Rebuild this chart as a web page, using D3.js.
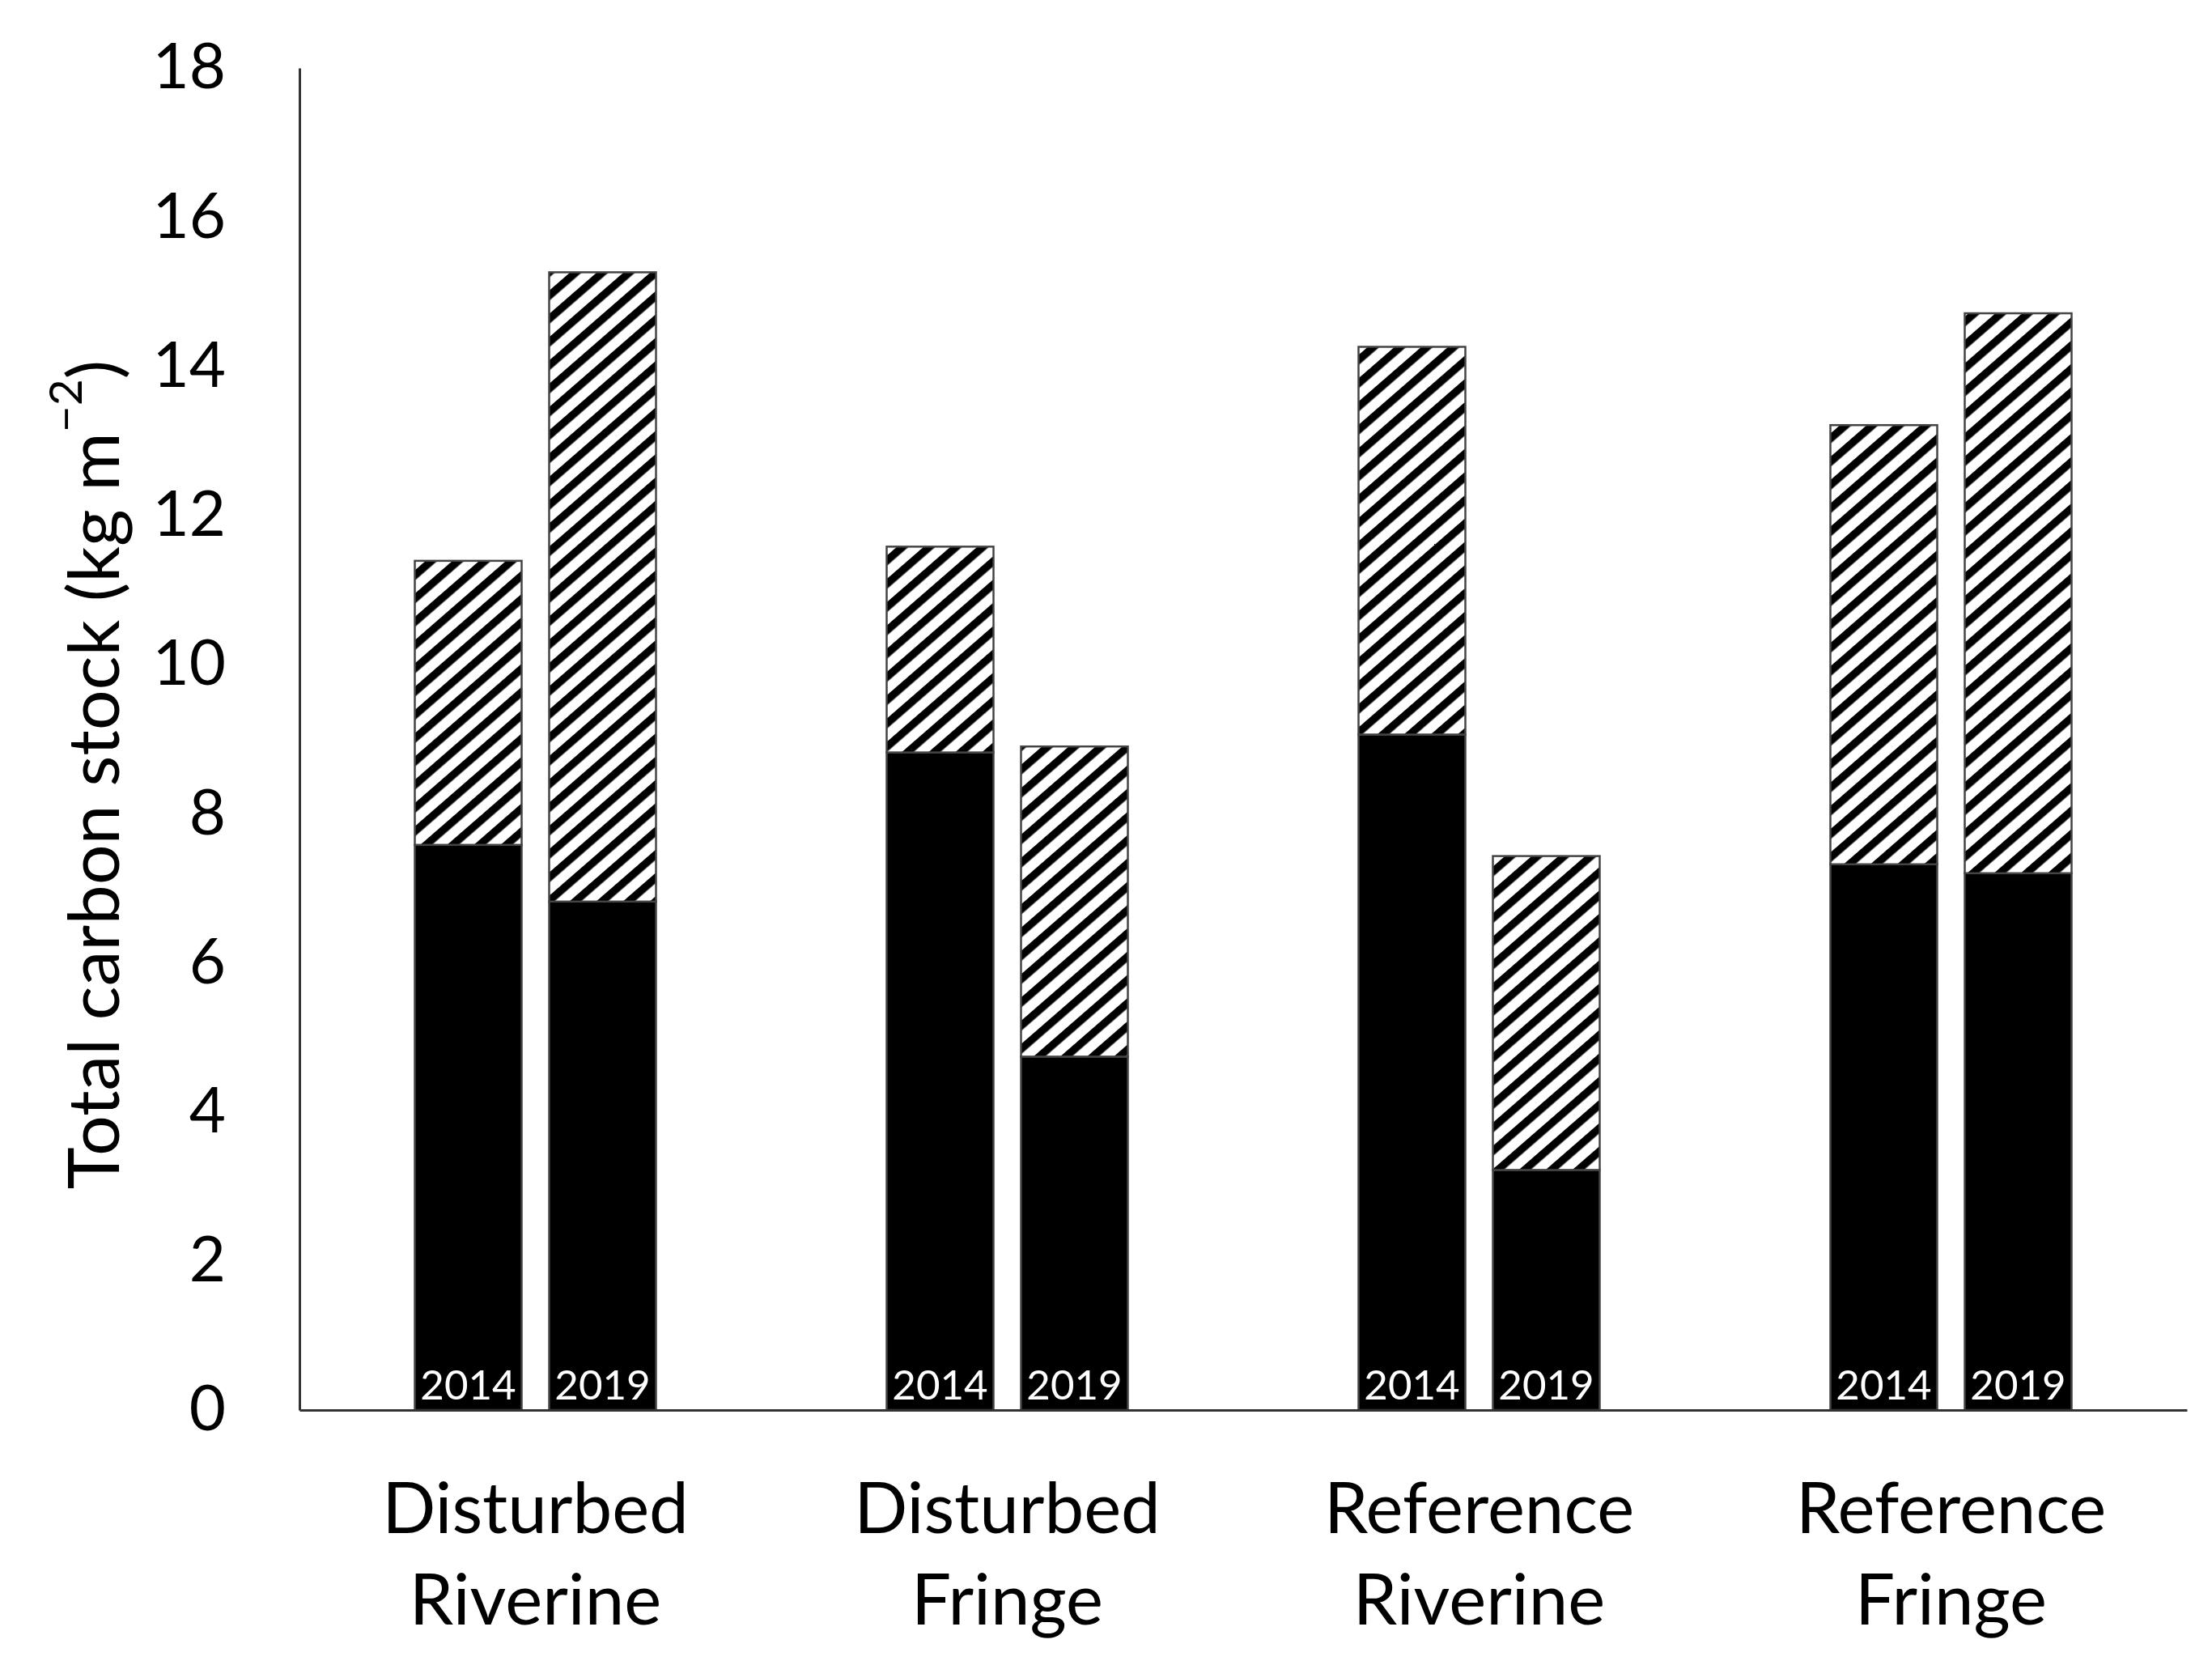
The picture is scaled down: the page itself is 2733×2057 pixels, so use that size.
<!DOCTYPE html>
<html>
<head>
<meta charset="utf-8">
<script src="https://cdn.jsdelivr.net/npm/d3@7"></script>
<style>
  body { margin: 0; background: #fff; }
  text { font-family: Lato, "Open Sans", sans-serif; }
</style>
</head>
<body>
<svg id="chart" width="2733" height="2057"></svg>
<script>
// sites (two-line labels) and sampling years
const categories = ['Disturbed Riverine', 'Disturbed Fringe', 'Reference Riverine', 'Reference Fringe'];
const years = ['2014', '2019'];

// solid black part of each bar (kg m-2)
const black2014 = [7.58, 8.82, 9.06, 7.32];
const black2019 = [6.82, 4.74, 3.22, 7.20];
// hatched part stacked on top
const hatch2014 = [3.81, 2.76, 5.20, 5.89];
const hatch2019 = [8.44, 4.16, 4.21, 7.51];

const yTicks = [0, 2, 4, 6, 8, 10, 12, 14, 16, 18];

const svg = d3.select('#chart');

// stripe pattern for the hatched segments
const defs = svg.append('defs');
defs.append('pattern')
    .attr('id', 'hatch')
    .attr('patternUnits', 'userSpaceOnUse')
    .attr('width', 21.7).attr('height', 21.7)
    .attr('patternTransform', 'rotate(49)')
  .call(p => {
      p.append('rect').attr('width', 21.7).attr('height', 21.7).attr('fill', '#fff');
      p.append('rect').attr('width', 9.5).attr('height', 21.7).attr('fill', '#000');
  });

const x0 = d3.scaleBand().domain(categories).range([370, 2702]);
const bw = x0.bandwidth();
const x1 = d3.scaleBand().domain(years)
    .range([bw / 2 - 149, bw / 2 + 149])
    .paddingInner(34 / 166);
const y = d3.scaleLinear().domain([0, 18]).range([1742, 84]);

// rows: one per bar
const rows = [];
categories.forEach((c, i) => {
    rows.push({cat: c, year: '2014', black: black2014[i], hatch: hatch2014[i]});
    rows.push({cat: c, year: '2019', black: black2019[i], hatch: hatch2019[i]});
});
const stacked = d3.stack().keys(['black', 'hatch'])(rows);
const fills = {black: '#000', hatch: 'url(#hatch)'};

svg.append('g').selectAll('g')
    .data(stacked)
    .join('g')
    .attr('fill', d => fills[d.key])
    .selectAll('rect')
    .data(d => d)
    .join('rect')
    .attr('x', d => x0(d.data.cat) + x1(d.data.year))
    .attr('width', x1.bandwidth())
    .attr('y', d => y(d[1]))
    .attr('height', d => y(d[0]) - y(d[1]))
    .attr('stroke', '#444')
    .attr('stroke-width', 2.5);

// year labels inside the bars
svg.append('g').selectAll('text')
    .data(rows)
    .join('text')
    .attr('x', d => x0(d.cat) + x1(d.year) + x1.bandwidth() / 2)
    .attr('y', y(0) - 13)
    .attr('text-anchor', 'middle')
    .attr('fill', '#fff')
    .attr('font-size', 51)
    .text(d => d.year);

// y axis
const yAxis = svg.append('g')
    .attr('transform', 'translate(370,0)')
    .call(d3.axisLeft(y).tickValues(yTicks).tickSize(0).tickPadding(91));
yAxis.selectAll('text').attr('font-size', 78).attr('fill', '#000')
    .attr('font-family', 'Lato, sans-serif');
yAxis.select('.domain').attr('stroke', '#333').attr('stroke-width', 3);

// x axis
const xAxis = svg.append('g')
    .attr('transform', `translate(0,${y(0)})`)
    .call(d3.axisBottom(x0).tickSize(0).tickSizeOuter(0));
xAxis.select('.domain').attr('stroke', '#333').attr('stroke-width', 3);
xAxis.selectAll('.tick text').each(function(d) {
    const t = d3.select(this).text('').attr('font-size', 87).attr('fill', '#000')
        .attr('font-family', 'Lato, sans-serif').attr('y', 0).attr('dy', null);
    d.split(' ').forEach((w, i) => {
        t.append('tspan').attr('x', 0).attr('y', 152 + i * 113).text(w);
    });
});

// y axis title
const title = svg.append('text')
    .attr('transform', 'translate(113,957) rotate(-90)')
    .attr('text-anchor', 'middle')
    .attr('dominant-baseline', 'central')
    .attr('font-size', 88);
title.append('tspan').text('Total carbon stock (kg m');
title.append('tspan').attr('baseline-shift', 'super').attr('font-size', 57).text('\u22122');
title.append('tspan').text(')');
</script>
</body>
</html>
